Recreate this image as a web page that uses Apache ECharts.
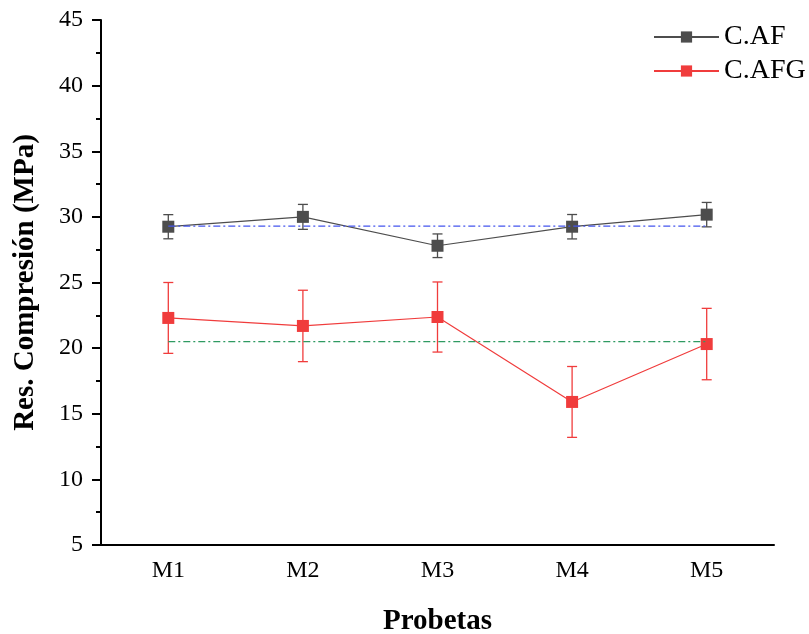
<!DOCTYPE html>
<html>
<head>
<meta charset="utf-8">
<script src="https://cdn.jsdelivr.net/npm/echarts@6/dist/echarts.min.js"></script>
<style>
html, body { margin: 0; padding: 0; background: #fff; }
#chart { width: 809px; height: 634px; }
</style>
</head>
<body>
<div id="chart"></div>
<script>
// data
const categories = ["M1", "M2", "M3", "M4", "M5"];
const cafValues = [29.25, 30.0, 27.8, 29.25, 30.17];
const cafErrors = [0.92, 0.95, 0.9, 0.93, 0.93];
const cafgValues = [22.3, 21.69, 22.37, 15.9, 20.31];
const cafgErrors = [2.7, 2.72, 2.67, 2.7, 2.72];
const cafMean = 29.29;
const cafgMean = 20.5;

const serif = "Liberation Serif";
const black = "#4d4d4d";
const red = "#f03c3c";

function errData(vals, errs) {
    return vals.map((v, i) => [i, v - errs[i], v + errs[i]]);
}

function errRender(color) {
    return function (params, api) {
        const x = api.value(0);
        const lo = api.coord([x, api.value(1)]);
        const hi = api.coord([x, api.value(2)]);
        const w = 5;
        const style = { stroke: color, lineWidth: 1.3 };
        return {
            type: "group",
            children: [
                { type: "line", shape: { x1: lo[0], y1: lo[1], x2: hi[0], y2: hi[1] }, style: style },
                { type: "line", shape: { x1: lo[0] - w, y1: lo[1], x2: lo[0] + w, y2: lo[1] }, style: style },
                { type: "line", shape: { x1: hi[0] - w, y1: hi[1], x2: hi[0] + w, y2: hi[1] }, style: style }
            ]
        };
    };
}

let myChart = echarts.init(document.getElementById("chart"));
let option = {
    animation: false,
    backgroundColor: "#fff",
    textStyle: { fontFamily: serif },
    grid: { left: 101, right: 35, top: 20, bottom: 89, outerBoundsMode: "none", containLabel: false },
    legend: {
        data: ["C.AF", "C.AFG"],
        orient: "vertical",
        left: 648,
        top: 18,
        itemWidth: 65,
        itemHeight: 14,
        itemGap: 6,
        textStyle: { fontFamily: serif, fontSize: 28, color: "#000" }
    },
    xAxis: [
        {
            type: "category",
            data: categories,
            boundaryGap: true,
            name: "Probetas",
            nameLocation: "middle",
            nameGap: 62,
            nameTextStyle: { fontFamily: serif, fontSize: 29, fontWeight: "bold", color: "#000" },
            axisLine: { lineStyle: { color: "#000", width: 2 } },
            axisTick: { alignWithLabel: true, length: 10, lineStyle: { color: "#000", width: 2 } },
            axisLabel: { fontFamily: serif, fontSize: 24, color: "#000", margin: 14 },
            splitLine: { show: false }
        },
        {
            type: "category",
            data: categories,
            boundaryGap: true,
            position: "bottom",
            axisLine: { show: false },
            axisTick: { interval: 0, length: 5, lineStyle: { color: "#000", width: 2 } },
            axisLabel: { show: false },
            splitLine: { show: false }
        }
    ],
    yAxis: {
        type: "value",
        min: 5,
        max: 45,
        interval: 5,
        name: "Res. Compresión (MPa)",
        nameLocation: "middle",
        nameGap: 61,
        nameTextStyle: { fontFamily: serif, fontSize: 29, fontWeight: "bold", color: "#000" },
        axisLine: { show: true, lineStyle: { color: "#000", width: 2 } },
        axisTick: { show: true, length: 9, lineStyle: { color: "#000", width: 2 } },
        minorTick: { show: true, splitNumber: 2, length: 5, lineStyle: { color: "#000", width: 2 } },
        axisLabel: { fontFamily: serif, fontSize: 24, color: "#000", margin: 18 },
        splitLine: { show: false }
    },
    series: [
        {
            name: "C.AF",
            type: "line",
            data: cafValues,
            symbol: "rect",
            symbolSize: 12,
            color: black,
            lineStyle: { color: black, width: 1.2 },
            itemStyle: { color: black },
            z: 3
        },
        {
            name: "C.AFG",
            type: "line",
            data: cafgValues,
            symbol: "rect",
            symbolSize: 12,
            color: red,
            lineStyle: { color: red, width: 1.2 },
            itemStyle: { color: red },
            z: 3
        },
        {
            name: "errAF",
            type: "custom",
            data: errData(cafValues, cafErrors),
            renderItem: errRender(black),
            encode: { x: 0, y: [1, 2] },
            z: 2
        },
        {
            name: "errAFG",
            type: "custom",
            data: errData(cafgValues, cafgErrors),
            renderItem: errRender(red),
            encode: { x: 0, y: [1, 2] },
            z: 2
        },
        {
            name: "meanAF",
            type: "line",
            data: categories.map(() => cafMean),
            symbol: "none",
            lineStyle: { color: "#4455ee", width: 1.2, type: [7, 3, 2, 3] },
            z: 4,
            silent: true
        },
        {
            name: "meanAFG",
            type: "line",
            data: categories.map(() => cafgMean),
            symbol: "none",
            lineStyle: { color: "#2f9a62", width: 1.2, type: [7, 3, 2, 3] },
            z: 4,
            silent: true
        }
    ]
};
myChart.setOption(option);
</script>
</body>
</html>
